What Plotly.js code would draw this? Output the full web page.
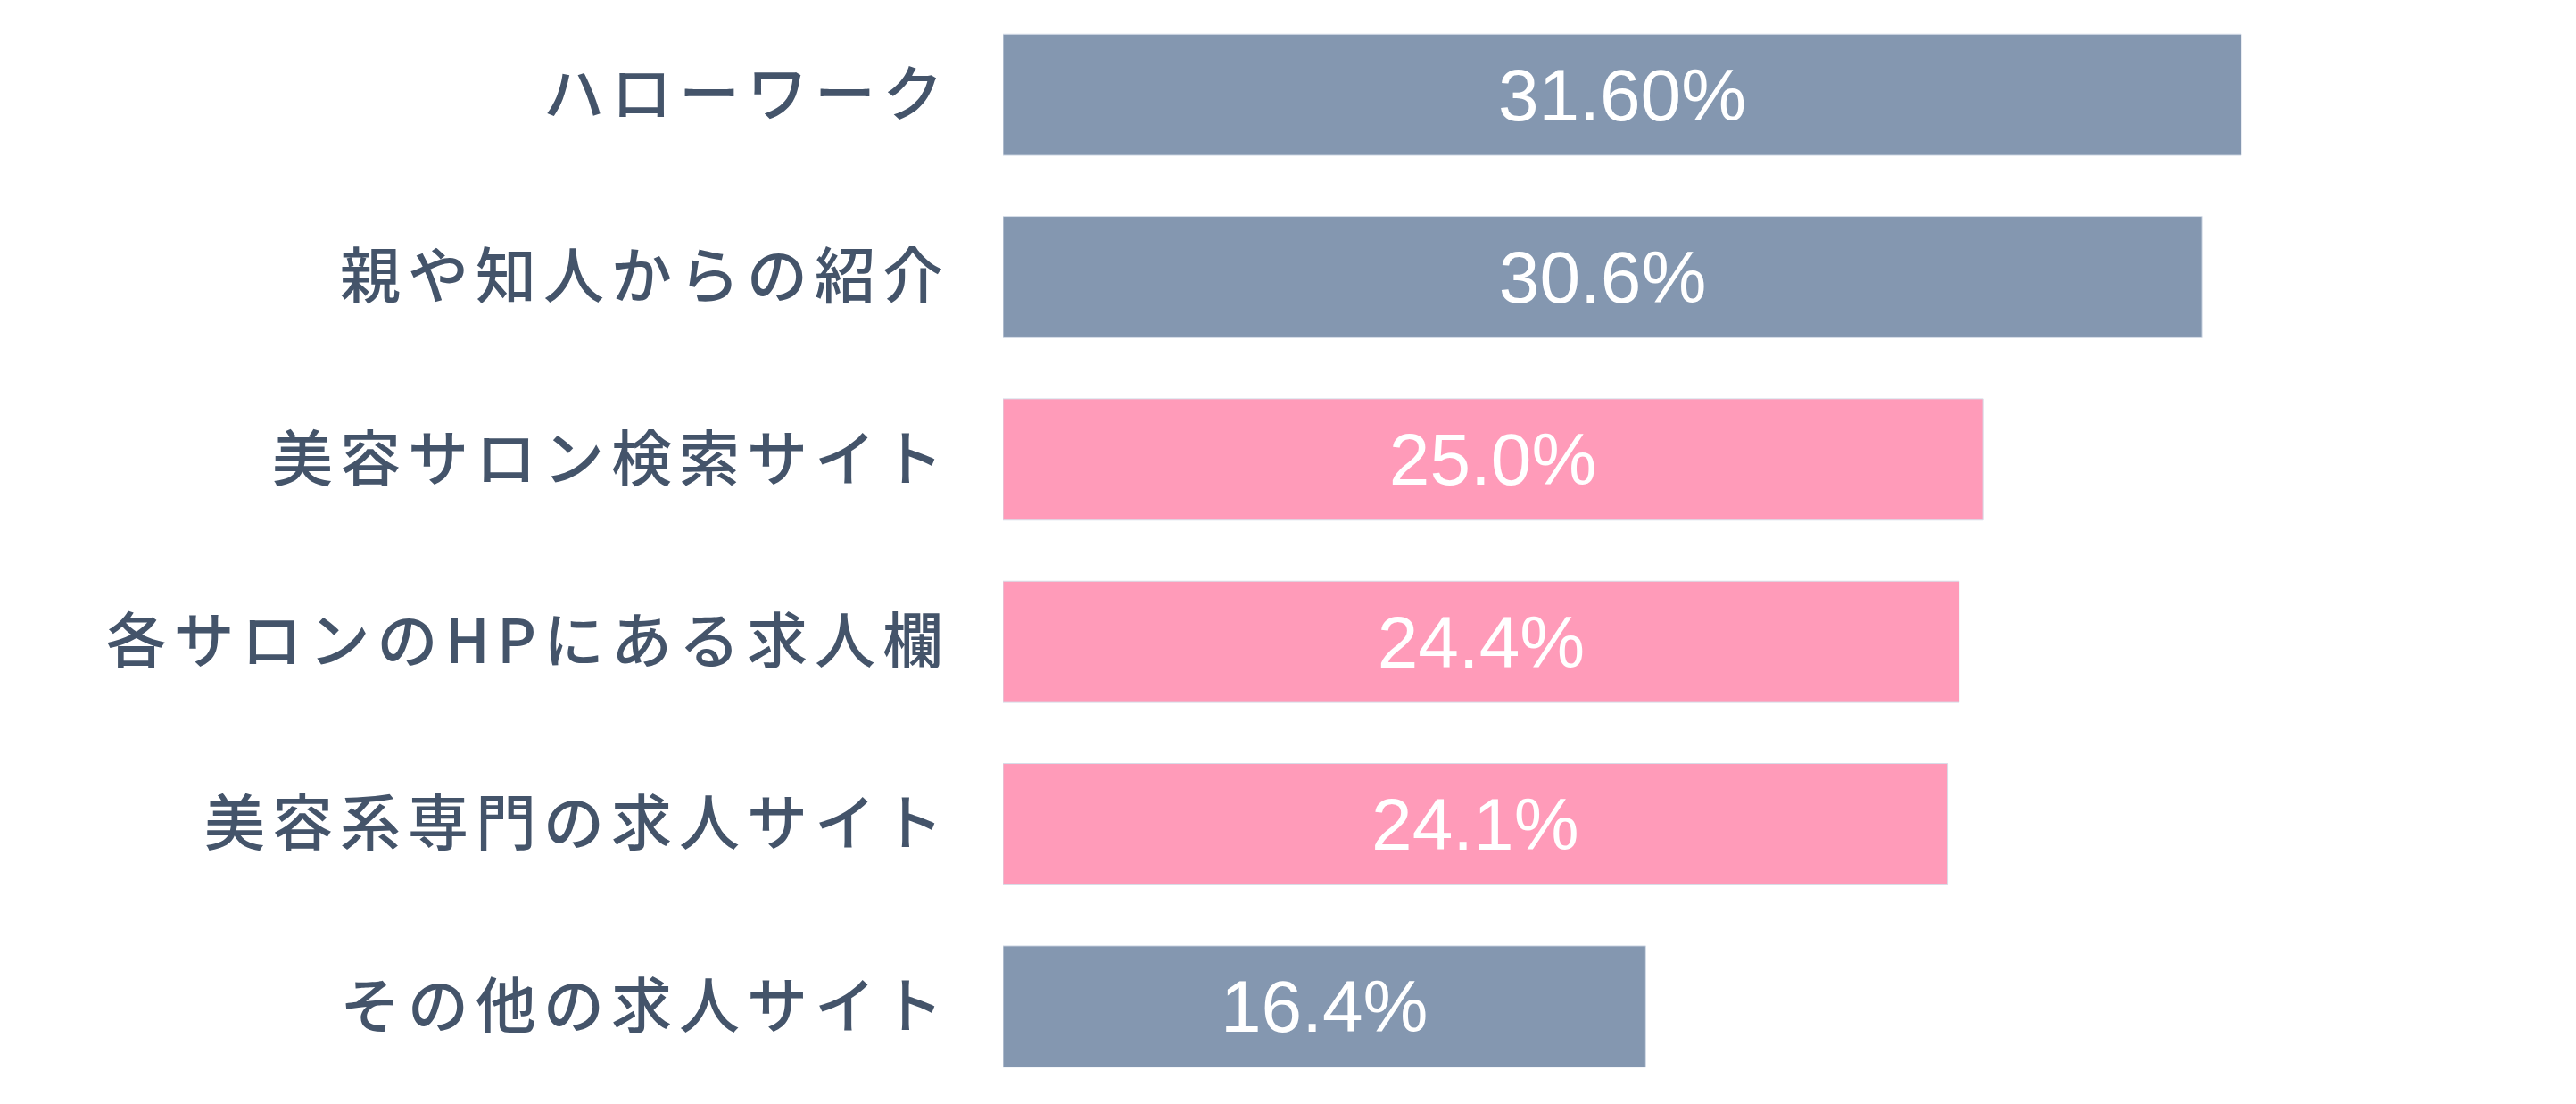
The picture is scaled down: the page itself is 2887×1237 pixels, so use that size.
<!DOCTYPE html>
<html>
<head>
<meta charset="utf-8">
<script src="https://cdn.plot.ly/plotly-3.0.1.min.js"></script>
<style>
html, body { margin: 0; padding: 0; background: #ffffff; }
#chart { width: 2887px; height: 1237px; }
.ytick text { letter-spacing: 8px; }
</style>
</head>
<body>
<div id="chart"></div>
<script>
const categories = ["ハローワーク", "親や知人からの紹介", "美容サロン検索サイト", "各サロンのHPにある求人欄", "美容系専門の求人サイト", "その他の求人サイト"];
const values = [31.6, 30.6, 25.0, 24.4, 24.1, 16.4];
const valueLabels = ["31.60%", "30.6%", "25.0%", "24.4%", "24.1%", "16.4%"];
const barColors = ["#8497B0", "#8497B0", "#FF9BB9", "#FF9BB9", "#FF9BB9", "#8497B0"];

const trace = {
  type: "bar",
  orientation: "h",
  y: categories,
  x: values,
  text: valueLabels,
  texttemplate: "%{text}",
  textposition: "inside",
  insidetextanchor: "middle",
  constraintext: "none",
  textangle: 0,
  textfont: { family: "Liberation Sans, Arial, sans-serif", size: 82, color: "#ffffff" },
  marker: { color: barColors, line: { color: "#d6dde8", width: 1 } },
  hoverinfo: "none"
};

const layout = {
  width: 2887,
  height: 1237,
  margin: { l: 1124, r: 6, t: 4, b: 7 },
  paper_bgcolor: "#ffffff",
  plot_bgcolor: "#ffffff",
  showlegend: false,
  bargap: 0.335,
  xaxis: { range: [0, 40], visible: false, fixedrange: true },
  yaxis: {
    autorange: "reversed",
    showgrid: false,
    zeroline: false,
    showline: false,
    ticks: "",
    ticklabelstandoff: 58,
    tickfont: { family: "Noto Sans CJK JP, sans-serif", size: 68, color: "#44546A", weight: 500 },
    automargin: false,
    fixedrange: true
  }
};

Plotly.newPlot("chart", [trace], layout, { displayModeBar: false, staticPlot: true });
</script>
</body>
</html>
